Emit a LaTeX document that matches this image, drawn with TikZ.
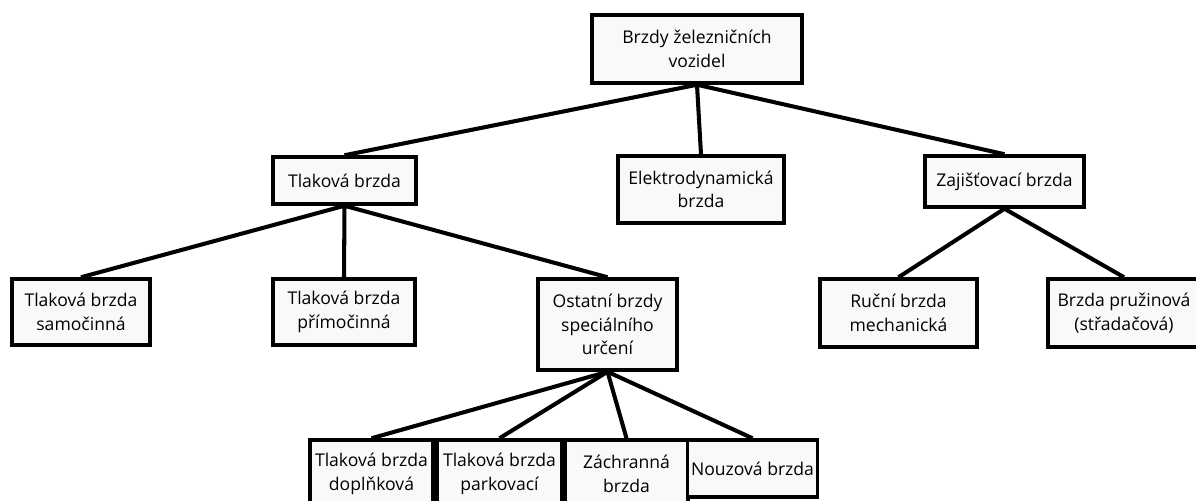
\documentclass[tikz,border=0pt]{standalone}
\usepackage{fontspec}
\setmainfont{Open Sans}
\usetikzlibrary{positioning}
\definecolor{boxfill}{RGB}{248,249,251}

\begin{document}
\begin{tikzpicture}[
  box/.style={draw=black,line width=2pt,fill=boxfill,align=center,
    inner sep=2pt,font=\fontsize{10}{13.3}\selectfont},
  every edge/.style={draw,line width=2.3pt}
]
\useasboundingbox (0,0) rectangle (23.92,-10.02);

\node[box,minimum width=4.2cm,minimum height=1.36cm] (root) at (13.94,-0.98)
 {Brzdy železničních\\vozidel};

\node[box,minimum width=2.86cm,minimum height=0.94cm] (tlak) at (6.89,-3.61)
 {Tlaková brzda};
\node[box,minimum width=3.32cm,minimum height=1.34cm] (elektro) at (14.02,-3.79)
 {Elektrodynamická\\brzda};
\node[box,minimum width=3.18cm,minimum height=1.02cm] (zajist) at (20.09,-3.63)
 {Zajišťovací brzda};

\node[box,minimum width=2.76cm,minimum height=1.32cm] (samoc) at (1.62,-6.24)
 {Tlaková brzda\\samočinná};
\node[box,minimum width=2.84cm,minimum height=1.32cm] (primoc) at (6.88,-6.24)
 {Tlaková brzda\\přímočinná};
\node[box,minimum width=2.78cm,minimum height=1.82cm] (ostatni) at (12.15,-6.49)
 {Ostatní brzdy\\speciálního\\určení};
\node[box,minimum width=3.14cm,minimum height=1.36cm] (rucni) at (17.97,-6.26)
 {Ruční brzda\\mechanická};
\node[box,minimum width=3.04cm,minimum height=1.36cm] (pruzin) at (22.48,-6.26)
 {Brzda pružinová\\(střadačová)};

\node[box,minimum width=2.46cm,minimum height=1.36cm] (doplnk) at (7.43,-9.48)
 {Tlaková brzda\\doplňková};
\node[box,minimum width=2.5cm,minimum height=1.36cm] (parkov) at (9.99,-9.48)
 {Tlaková brzda\\parkovací};
\node[box,minimum width=2.46cm,minimum height=1.36cm] (zachran) at (12.53,-9.48)
 {Záchranná\\brzda};
\node[box,minimum width=2.5cm,minimum height=1.14cm] (nouz) at (15.05,-9.37)
 {Nouzová brzda};

\path (root.south) edge (tlak.north)
      (root.south) edge (elektro.north)
      (root.south) edge (zajist.north)
      (tlak.south) edge (samoc.north)
      (tlak.south) edge (primoc.north)
      (tlak.south) edge (ostatni.north)
      (ostatni.south) edge (doplnk.north)
      (ostatni.south) edge (parkov.north)
      (ostatni.south) edge (zachran.north)
      (ostatni.south) edge (nouz.north)
      (zajist.south) edge (rucni.north)
      (zajist.south) edge (pruzin.north);
\end{tikzpicture}
\end{document}
